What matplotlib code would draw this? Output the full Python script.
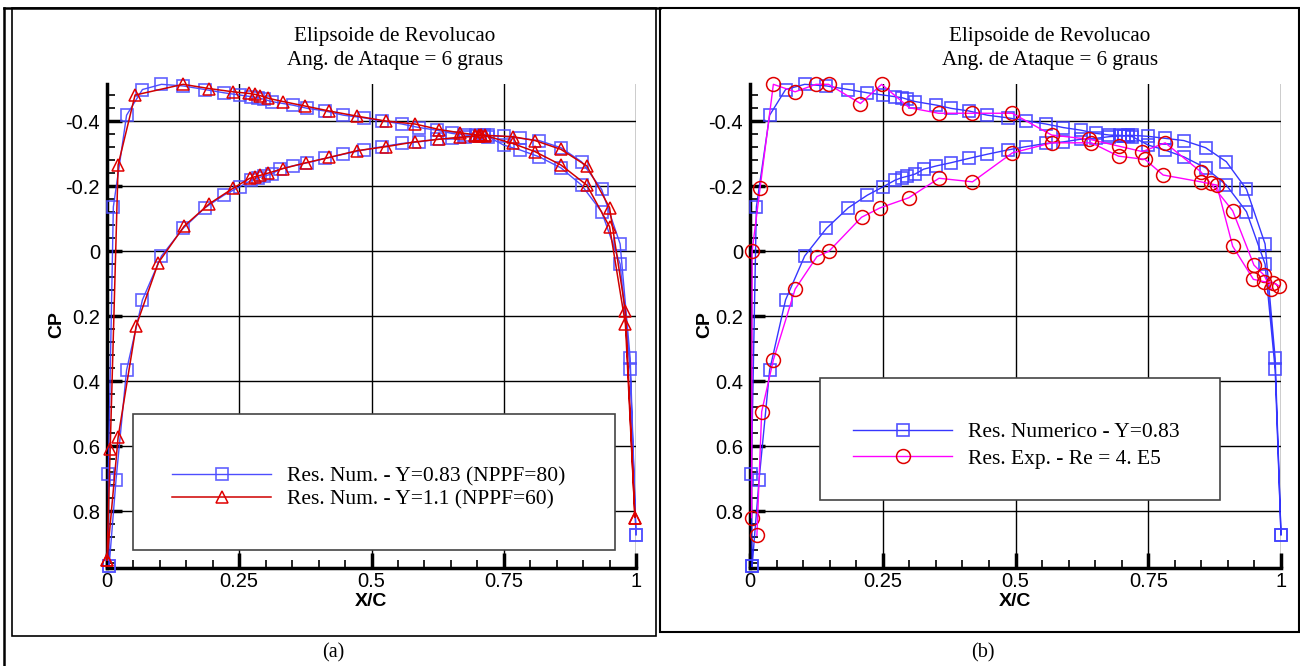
import numpy as np
import matplotlib
matplotlib.use("Agg")
import matplotlib.pyplot as plt
from matplotlib.patches import Rectangle
from matplotlib.lines import Line2D
from matplotlib.ticker import MultipleLocator

# numerical result, Y=0.83 (NPPF=80) - upper and lower surface, LE -> TE
x_num83_up = [0.004, 0.0025, 0.012, 0.037, 0.067, 0.103, 0.144, 0.185, 0.221, 0.251, 0.273, 0.286, 0.296,
              0.311, 0.351, 0.379, 0.412, 0.447, 0.485, 0.519, 0.557, 0.59, 0.623, 0.652, 0.677, 0.697,
              0.705, 0.712, 0.72, 0.75, 0.781, 0.817, 0.858, 0.897, 0.935, 0.97, 0.989, 1.0]
cp_num83_up = [0.97, 0.686, -0.136, -0.418, -0.497, -0.513, -0.508, -0.497, -0.487, -0.48, -0.475, -0.472,
               -0.467, -0.46, -0.449, -0.439, -0.431, -0.418, -0.41, -0.401, -0.391, -0.38, -0.372, -0.362,
               -0.357, -0.356, -0.355, -0.354, -0.352, -0.326, -0.311, -0.29, -0.256, -0.203, -0.121,
               0.04, 0.364, 0.874]
x_num83_lo = [0.004, 0.017, 0.037, 0.067, 0.103, 0.144, 0.185, 0.221, 0.251, 0.273, 0.286, 0.296, 0.311,
              0.327, 0.351, 0.379, 0.412, 0.447, 0.485, 0.519, 0.557, 0.59, 0.623, 0.652, 0.677, 0.697,
              0.705, 0.712, 0.72, 0.75, 0.781, 0.817, 0.858, 0.897, 0.935, 0.97, 0.989, 1.0]
cp_num83_lo = [0.97, 0.705, 0.366, 0.15, 0.015, -0.07, -0.133, -0.172, -0.198, -0.218, -0.226, -0.23,
               -0.237, -0.252, -0.262, -0.272, -0.285, -0.298, -0.311, -0.321, -0.331, -0.336, -0.344,
               -0.347, -0.352, -0.354, -0.355, -0.356, -0.356, -0.353, -0.347, -0.34, -0.318, -0.275,
               -0.19, -0.022, 0.33, 0.874]

# numerical result, Y=1.1 (NPPF=60)
x_num11_up = [0.0, 0.006, 0.021, 0.053, 0.144, 0.193, 0.238, 0.269, 0.28, 0.29, 0.305, 0.333, 0.375, 0.42,
              0.473, 0.527, 0.582, 0.628, 0.667, 0.695, 0.703, 0.707, 0.715, 0.767, 0.809, 0.858, 0.907,
              0.95, 0.98, 0.998]
cp_num11_up = [0.95, 0.61, -0.265, -0.48, -0.513, -0.5, -0.49, -0.485, -0.482, -0.478, -0.47, -0.46,
               -0.446, -0.431, -0.415, -0.4, -0.391, -0.374, -0.364, -0.358, -0.357, -0.357, -0.355,
               -0.331, -0.306, -0.265, -0.203, -0.075, 0.225, 0.82]
x_num11_lo = [0.0, 0.021, 0.055, 0.097, 0.146, 0.193, 0.238, 0.27, 0.28, 0.29, 0.305, 0.333, 0.377, 0.42,
              0.473, 0.527, 0.582, 0.628, 0.667, 0.695, 0.703, 0.707, 0.715, 0.767, 0.809, 0.858, 0.907,
              0.95, 0.98, 0.998]
cp_num11_lo = [0.95, 0.573, 0.231, 0.036, -0.077, -0.145, -0.193, -0.224, -0.229, -0.233, -0.24, -0.254,
               -0.272, -0.288, -0.309, -0.321, -0.336, -0.344, -0.35, -0.353, -0.355, -0.356, -0.356,
               -0.352, -0.34, -0.313, -0.262, -0.134, 0.184, 0.82]

# experimental result, Re = 4.E5
x_exp_up = [0.003, 0.004, 0.019, 0.044, 0.085, 0.124, 0.148, 0.208, 0.248, 0.3, 0.355, 0.419, 0.494,
            0.568, 0.639, 0.694, 0.739, 0.782, 0.849, 0.868, 0.909, 0.949, 0.968, 0.982]
cp_exp_up = [0.82, 0.0, -0.194, -0.513, -0.49, -0.513, -0.513, -0.454, -0.513, -0.441, -0.424, -0.424,
             -0.424, -0.357, -0.344, -0.323, -0.306, -0.333, -0.244, -0.208, -0.124, 0.043, 0.074, 0.118]
x_exp_lo = [0.013, 0.022, 0.044, 0.085, 0.126, 0.149, 0.21, 0.245, 0.299, 0.356, 0.419, 0.494, 0.568,
            0.643, 0.694, 0.744, 0.778, 0.849, 0.879, 0.909, 0.948, 0.968, 0.985, 0.997]
cp_exp_lo = [0.875, 0.494, 0.335, 0.117, 0.017, 0.0, -0.104, -0.133, -0.164, -0.224, -0.213, -0.302,
             -0.333, -0.333, -0.292, -0.282, -0.234, -0.213, -0.203, -0.015, 0.087, 0.094, 0.097, 0.108]

xticks = [0, 0.25, 0.5, 0.75, 1]
xticklabels = ["0", "0.25", "0.5", "0.75", "1"]
yticks = [-0.4, -0.2, 0, 0.2, 0.4, 0.6, 0.8]
yticklabels = ["-0.4", "-0.2", "0", "0.2", "0.4", "0.6", "0.8"]
title_lines = ["Elipsoide de Revolucao", "Ang. de Ataque = 6 graus"]

W, H = 1300, 666
fig = plt.figure(figsize=(13, 6.66), dpi=100)
SANS = "Liberation Sans"
SERIF = "Liberation Serif"


def fx(px):
    return px / W


def fy(py):
    return 1 - py / H


def loop(xu, cu, xl, cl):
    # closed contour: upper LE->TE then lower TE->LE
    return list(xu) + list(xl)[::-1], list(cu) + list(cl)[::-1]


def style(ax, left_px, cp_px):
    ax.set_xlim(0, 1)
    ax.set_ylim(0.975, -0.514)
    ax.set_xticks(xticks)
    ax.set_xticklabels(xticklabels)
    ax.set_yticks(yticks)
    ax.set_yticklabels(yticklabels)
    ax.xaxis.set_minor_locator(MultipleLocator(0.05))
    ax.yaxis.set_minor_locator(MultipleLocator(0.04))
    ax.tick_params(which="major", direction="in", length=11, width=2.5, labelsize=14.5, pad=5)
    ax.tick_params(axis="x", which="major", pad=3)
    ax.tick_params(which="minor", direction="in", length=6, width=1.2)
    for lab in ax.get_xticklabels() + ax.get_yticklabels():
        lab.set_fontfamily(SANS)
    for s in ["top", "right"]:
        ax.spines[s].set_visible(False)
    for s in ["left", "bottom"]:
        ax.spines[s].set_linewidth(2.5)
    ax.grid(True, which="major", color="black", lw=1)
    ax.set_axisbelow(True)
    ax.set_xlabel("X/C", fontfamily=SANS, fontweight="bold", fontsize=14)
    ax.set_ylabel("CP", fontfamily=SANS, fontweight="bold", fontsize=14)
    ax.xaxis.set_label_coords(0.5, -(593 - 568) / 484)
    ax.yaxis.set_label_coords((cp_px - left_px) / 530, (568 - 325) / 484)
    ax.yaxis.label.set_va("center")


# ---------------- (a)
ax1 = fig.add_axes([fx(107), fy(568), fx(636) - fx(107), fy(84) - fy(568)])
style(ax1, 107, 57)
xa, ca = loop(x_num83_up, cp_num83_up, x_num83_lo, cp_num83_lo)
l1, = ax1.plot(xa, ca, color="#3a3aff", lw=1, marker="s", ms=9, mfc="none", mec="#5050ff", mew=1.2,
               alpha=0.9, zorder=3, clip_on=False)
xb, cb = loop(x_num11_up, cp_num11_up, x_num11_lo, cp_num11_lo)
l2, = ax1.plot(xb, cb, color="#d00000", lw=1.1, marker="^", ms=8, mfc="none", mec="#e00000", mew=1.1,
               zorder=4, clip_on=False)
ax1.add_patch(Rectangle((fx(133), fy(550)), fx(615) - fx(133), fy(414) - fy(550), transform=fig.transFigure,
                        facecolor="white", edgecolor="#444444", lw=1.2, zorder=5))
leg1 = ax1.legend([l1, l2], ["Res. Num. - Y=0.83 (NPPF=80)", "Res. Num. - Y=1.1 (NPPF=60)"],
                  loc="upper left", bbox_to_anchor=(fx(172), fy(466)), bbox_transform=fig.transFigure,
                  frameon=False, borderpad=0, handlelength=4.6, handletextpad=0.75, labelspacing=0.15,
                  prop={"family": SERIF, "size": 15.5}, borderaxespad=0)
leg1.set_zorder(6)

# ---------------- (b)
ax2 = fig.add_axes([fx(750), fy(568), fx(1281) - fx(750), fy(84) - fy(568)])
style(ax2, 750, 705)
l3, = ax2.plot(xa, ca, color="#2020ff", lw=1, marker="s", ms=9, mfc="none", mec="#4040ff", mew=1.2,
               alpha=0.9, zorder=3, clip_on=False)
l4, = ax2.plot(x_exp_up, cp_exp_up, color="#ff00ff", lw=1, marker="o", ms=10, mfc="none", mec="#e00000",
               mew=1.1, zorder=4, clip_on=False)
ax2.plot(x_exp_lo, cp_exp_lo, color="#ff00ff", lw=1, marker="o", ms=10, mfc="none", mec="#e00000",
         mew=1.1, zorder=4, clip_on=False)
ax2.add_patch(Rectangle((fx(820), fy(500)), fx(1220) - fx(820), fy(378) - fy(500), transform=fig.transFigure,
                        facecolor="white", edgecolor="#444444", lw=1.2, zorder=5))
leg2 = ax2.legend([l3, l4], ["Res. Numerico - Y=0.83", "Res. Exp. - Re = 4. E5"],
                  loc="upper left", bbox_to_anchor=(fx(853), fy(422)), bbox_transform=fig.transFigure,
                  frameon=False, borderpad=0, handlelength=4.6, handletextpad=0.75, labelspacing=0.3,
                  prop={"family": SERIF, "size": 15.5}, borderaxespad=0)
leg2.set_zorder(6)

# titles
for cx in (395, 1050):
    fig.text(fx(cx), fy(37), title_lines[0], ha="center", va="center", fontfamily=SERIF, fontsize=15.2)
    fig.text(fx(cx), fy(60), title_lines[1], ha="center", va="center", fontfamily=SERIF, fontsize=15.2)

# captions
fig.text(fx(333), fy(653), "(a)", ha="center", va="center", fontfamily=SERIF, fontsize=14.5)
fig.text(fx(983), fy(653), "(b)", ha="center", va="center", fontfamily=SERIF, fontsize=14.5)

# panel frames
fig.add_artist(Rectangle((fx(12), fy(636)), fx(656) - fx(12), fy(8) - fy(636), transform=fig.transFigure,
                         fill=False, edgecolor="black", lw=1.2))
fig.add_artist(Rectangle((fx(660), fy(632)), fx(1299) - fx(660), fy(8) - fy(632), transform=fig.transFigure,
                         fill=False, edgecolor="black", lw=1.5))
fig.add_artist(Line2D([fx(4), fx(4)], [0, fy(8)], transform=fig.transFigure, color="black", lw=1.8))
fig.add_artist(Line2D([fx(4), fx(660)], [fy(8), fy(8)], transform=fig.transFigure, color="black", lw=1.8))

fig.savefig("out.png", dpi=100)
